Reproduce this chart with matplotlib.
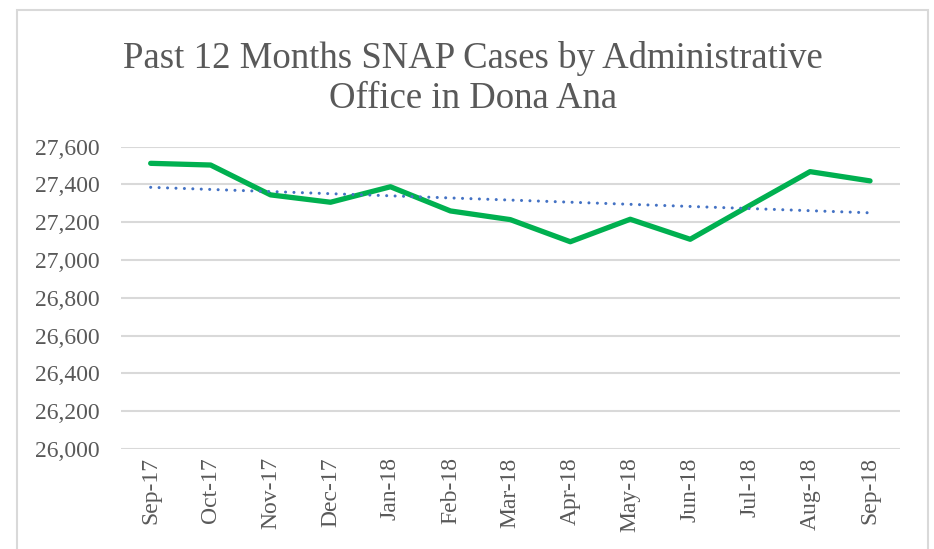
import numpy as np
import matplotlib.pyplot as plt
from matplotlib.patches import Rectangle

# Данные: месяцы и количество дел SNAP
months = ['Sep-17', 'Oct-17', 'Nov-17', 'Dec-17', 'Jan-18', 'Feb-18', 'Mar-18',
          'Apr-18', 'May-18', 'Jun-18', 'Jul-18', 'Aug-18', 'Sep-18']
cases = [27512, 27503, 27345, 27306, 27388, 27260, 27214,
         27097, 27216, 27110, 27290, 27468, 27419]
y_ticks = [26000, 26200, 26400, 26600, 26800, 27000, 27200, 27400, 27600]

plt.rcParams['font.family'] = ['Liberation Serif', 'DejaVu Serif']
text_color = '#595959'
grid_color = '#d9d9d9'

fig = plt.figure(figsize=(9.34, 5.49), dpi=100)
# рамка области диаграммы
fig.patches.append(Rectangle((17 / 934, -0.05), (928 - 17) / 934, 1.05 - 10 / 549,
                             transform=fig.transFigure, fill=False,
                             edgecolor=grid_color, linewidth=1.5))

ax = fig.add_axes([120.7 / 934, 1 - 449 / 549, (900 - 120.7) / 934, (449 - 146.7) / 549])

x = np.arange(len(months))
ax.plot(x, cases, color='#00b050', linewidth=3.8,
        solid_capstyle='round', solid_joinstyle='round', zorder=3)

# линейный тренд
k, b = np.polyfit(x, cases, 1)
ax.plot(x, k * x + b, color='#4472c4', linewidth=2.2,
        linestyle=(0, (0.01, 2.75)), dash_capstyle='round', zorder=4)

ax.set_xlim(-0.5, len(months) - 0.5)
ax.set_ylim(26000, 27600)
ax.set_yticks(y_ticks)
ax.set_yticklabels([f'{v:,}' for v in y_ticks])
ax.set_xticks(x)
ax.set_xticklabels(months, rotation=90)
ax.tick_params(axis='y', length=0, pad=15, labelsize=17, labelcolor=text_color)
ax.tick_params(axis='x', length=0, pad=6, labelsize=17, labelcolor=text_color)

ax.grid(axis='y', color=grid_color, linewidth=1.5)
ax.set_axisbelow(True)
for s in ax.spines.values():
    s.set_visible(False)

# заголовок (baseline относится к последней строке)
fig.text(0.506, 1 - 107.5 / 549, 'Past 12 Months SNAP Cases by Administrative\nOffice in Dona Ana',
         ha='center', va='baseline', fontsize=26.5, color=text_color, linespacing=1.2)

fig.savefig('out.png', dpi=100)
